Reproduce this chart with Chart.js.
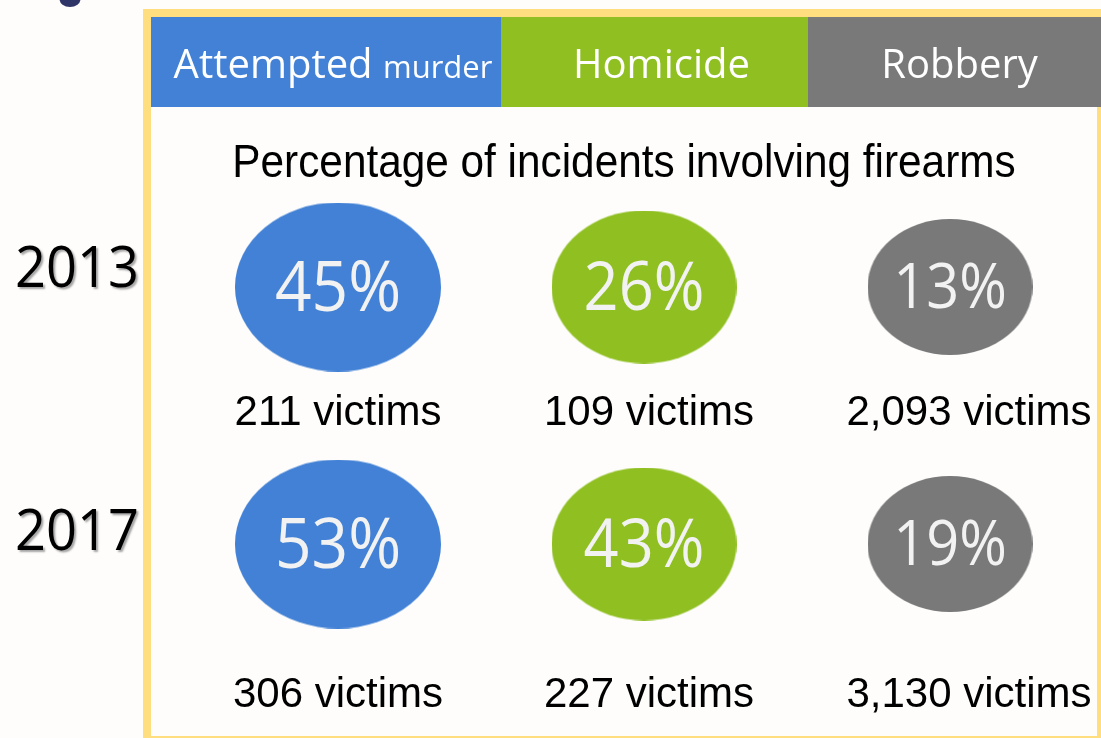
<!DOCTYPE html>
<html>
<head>
<meta charset="utf-8">
<script src="https://cdn.jsdelivr.net/npm/chart.js@4.4.0/dist/chart.umd.min.js"></script>
<style>
  html, body { margin: 0; padding: 0; background: #FEFDFC; overflow: hidden; }
  #wrap { width: 1101px; height: 738px; position: relative; }
</style>
</head>
<body>
<div id="wrap"><canvas id="firearmsChart"></canvas></div>
<script>
// DATA
const categories = ['Attempted murder', 'Homicide', 'Robbery'];
const years = ['2013', '2017'];
const pct2013 = [45, 26, 13];
const pct2017 = [53, 43, 19];
const victims2013 = [211, 109, 2093];
const victims2017 = [306, 227, 3130];
const chartTitle = 'Percentage of incidents involving firearms';

// STYLE
const catColors = ['#4281D5', '#8FBF21', '#797979'];
const ellipseSize = [[103, 84.5], [92.5, 76.5], [82.5, 68]]; // rx, ry
const pctFont = [70, 67, 63];
const victimNudge = [0, 5, 19];
const victimGap = [138, 163];
const headerEdges = [151, 501, 808, 1101];

// ellipse images used as point styles
function ellipseImage(rx, ry, color) {
    const c = document.createElement('canvas');
    c.width = Math.round(rx * 2);
    c.height = Math.round(ry * 2);
    const g = c.getContext('2d');
    g.fillStyle = color;
    g.beginPath();
    g.ellipse(c.width / 2, c.height / 2, rx, ry, 0, 0, Math.PI * 2);
    g.fill();
    return c;
}

function drawText(ctx, txt, x, y, font, color, sx) {
    ctx.save();
    ctx.font = font;
    ctx.fillStyle = color;
    ctx.textAlign = 'center';
    ctx.textBaseline = 'alphabetic';
    ctx.translate(x, y);
    ctx.scale(sx || 1, 1);
    ctx.fillText(txt, 0, 0);
    ctx.restore();
}

const allPct = [pct2013, pct2017];
const allVictims = [victims2013, victims2017];

const datasets = categories.map((cat, i) => ({
    label: cat,
    data: years.map((yr, j) => ({ x: cat, y: yr, pct: allPct[j][i], victims: allVictims[j][i] })),
    pointStyle: ellipseImage(ellipseSize[i][0], ellipseSize[i][1], catColors[i]),
    pointRadius: 10,
    pointHoverRadius: 10,
    showLine: false,
    clip: false
}));

// frame, header bands, title, year labels
const framePlugin = {
    id: 'framePlugin',
    beforeDraw(chart) {
        const ctx = chart.ctx;
        ctx.save();
        ctx.fillStyle = '#FEFDFC';
        ctx.fillRect(0, 0, chart.width, chart.height);

        // small dark mark top-left
        ctx.fillStyle = '#2F3566';
        ctx.beginPath();
        ctx.ellipse(70, -1, 10.5, 8, 0, 0, Math.PI * 2);
        ctx.fill();

        // yellow frame
        ctx.strokeStyle = '#FFDE80';
        ctx.lineWidth = 8;
        ctx.strokeRect(147, 13, 954, 727);

        // header bands
        categories.forEach((cat, i) => {
            const x0 = headerEdges[i], x1 = headerEdges[i + 1];
            ctx.fillStyle = catColors[i];
            ctx.fillRect(x0, 17, x1 - x0, 90);
            const cx = (x0 + Math.min(x1, 1097)) / 2 + 7;
            const words = cat.split(' ');
            if (words.length > 1) {
                ctx.font = '40px "Open Sans"';
                const w1 = ctx.measureText(words[0] + ' ').width;
                ctx.font = '31px "Open Sans"';
                const w2 = ctx.measureText(words.slice(1).join(' ')).width;
                const start = cx - (w1 + w2) / 2;
                ctx.fillStyle = '#FFFFFF';
                ctx.textAlign = 'left';
                ctx.textBaseline = 'alphabetic';
                ctx.font = '40px "Open Sans"';
                ctx.fillText(words[0], start, 78);
                ctx.font = '31px "Open Sans"';
                ctx.fillText(words.slice(1).join(' '), start + w1, 78);
            } else {
                drawText(ctx, cat, cx, 78, '40px "Open Sans"', '#FFFFFF');
            }
        });

        // title
        drawText(ctx, chartTitle, 624, 177, '46px "Liberation Sans"', '#000000', 0.92);

        // year labels, from the y scale
        const yScale = chart.scales.y;
        years.forEach((yr, j) => {
            const y = yScale.getPixelForValue(j);
            ctx.save();
            ctx.shadowColor = 'rgba(0,0,0,0.35)';
            ctx.shadowOffsetX = 2;
            ctx.shadowOffsetY = 2;
            ctx.shadowBlur = 2;
            drawText(ctx, yr, 77, y + 3 + (j === 0 ? -3 : 3), '57px "Open Sans"', '#000000', 0.95);
            ctx.restore();
        });
        ctx.restore();
    }
};

// percentages inside the ellipses and victim counts below
const labelPlugin = {
    id: 'labelPlugin',
    afterDatasetsDraw(chart) {
        const ctx = chart.ctx;
        chart.data.datasets.forEach((ds, i) => {
            const meta = chart.getDatasetMeta(i);
            meta.data.forEach((pt, j) => {
                const raw = ds.data[j];
                const fs = pctFont[i];
                drawText(ctx, raw.pct + '%', pt.x, pt.y + fs * 0.357 - 1, fs + 'px "Open Sans"', '#F2F2F2', 0.915);
                drawText(ctx, raw.victims.toLocaleString('en-US') + ' victims', pt.x + victimNudge[i], pt.y + victimGap[j],
                    '42px "Liberation Sans"', '#000000');
            });
        });
    }
};

const ctxEl = document.getElementById('firearmsChart');
const chart = new Chart(ctxEl, {
    type: 'scatter',
    data: { datasets: datasets },
    options: {
        responsive: true,
        maintainAspectRatio: false,
        animation: false,
        layout: {
            padding: { left: 338, right: 151, top: 287, bottom: 194 }
        },
        scales: {
            x: { type: 'category', labels: categories, offset: false, display: false },
            y: { type: 'category', labels: years, offset: false, display: false }
        },
        plugins: {
            legend: { display: false },
            tooltip: { enabled: false },
            title: { display: false }
        }
    },
    plugins: [framePlugin, labelPlugin]
});
</script>
</body>
</html>
